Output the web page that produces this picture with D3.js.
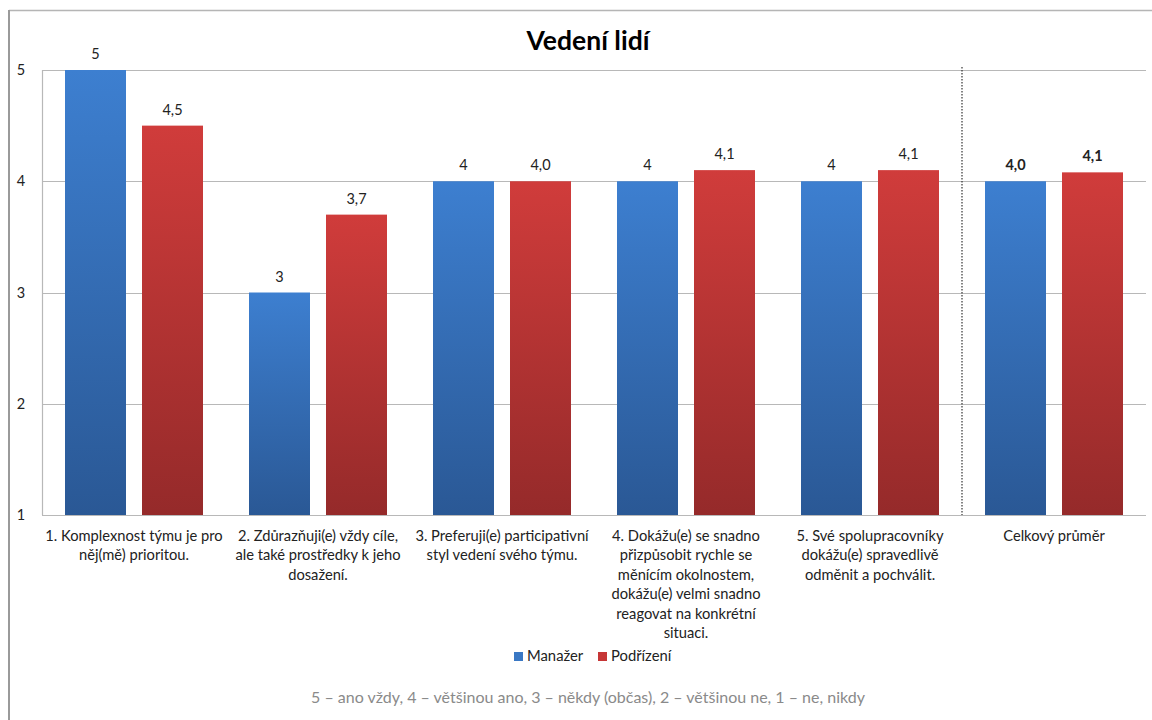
<!DOCTYPE html>
<html>
<head>
<meta charset="utf-8">
<script src="https://cdn.jsdelivr.net/npm/d3@7"></script>
<style>
  html, body { margin: 0; padding: 0; background: #fff; }
  svg { display: block; font-family: Lato, "Open Sans", sans-serif; }
</style>
</head>
<body>
<svg id="chart" width="1152" height="720"></svg>
<script>
// Hodnocení vedení lidí: manažer vs. podřízení
const categories = [
  ["1. Komplexnost týmu je pro", "něj(mě) prioritou."],
  ["2. Zdůrazňuji(e) vždy cíle,", "ale také prostředky k jeho", "dosažení."],
  ["3. Preferuji(e) participativní", "styl vedení svého týmu."],
  ["4. Dokážu(e) se snadno", "přizpůsobit rychle se", "měnícím okolnostem,", "dokážu(e) velmi snadno", "reagovat na konkrétní", "situaci."],
  ["5. Své spolupracovníky", "dokážu(e) spravedlivě", "odměnit a pochválit."],
  ["Celkový průměr"]
];
const manazer = [5, 3, 4, 4, 4, 4.0];
const podrizeni = [4.5, 3.7, 4.0, 4.1, 4.1, 4.08];
const manazerLabels = ["5", "3", "4", "4", "4", "4,0"];
const podrizeniLabels = ["4,5", "3,7", "4,0", "4,1", "4,1", "4,1"];
const yTicks = [1, 2, 3, 4, 5];
const seriesNames = ["Manažer", "Podřízení"];
const footnote = "5 – ano vždy, 4 – většinou ano, 3 – někdy (občas), 2 – většinou ne, 1 – ne, nikdy";

const svg = d3.select("#chart");
const plotLeft = 42, plotRight = 1146, plotTop = 70, plotBottom = 515;

const defs = svg.append("defs");
function grad(id, c1, c2) {
  const g = defs.append("linearGradient").attr("id", id)
    .attr("x1", 0).attr("y1", 0).attr("x2", 0).attr("y2", 1);
  g.append("stop").attr("offset", "0%").attr("stop-color", c1);
  g.append("stop").attr("offset", "100%").attr("stop-color", c2);
}
grad("gBlue", "#3d7fd0", "#2a5895");
grad("gRed", "#d03c3b", "#952a2a");

// outer frame
svg.append("line").attr("x1", 9).attr("x2", 1152).attr("y1", 10.5).attr("y2", 10.5)
  .attr("stroke", "#b5b5b5").attr("stroke-width", 1.5);
svg.append("line").attr("x1", 9).attr("x2", 9).attr("y1", 10).attr("y2", 720)
  .attr("stroke", "#9a9a9a").attr("stroke-width", 2);

const x = d3.scaleBand().domain(d3.range(categories.length)).range([plotLeft, plotRight]).padding(0);
const y = d3.scaleLinear().domain([1, 5]).range([plotBottom, plotTop]);

// gridlines
svg.append("g").selectAll("line").data(yTicks).join("line")
  .attr("x1", plotLeft).attr("x2", plotRight)
  .attr("y1", d => Math.round(y(d)) + 0.5).attr("y2", d => Math.round(y(d)) + 0.5)
  .attr("stroke", "#b8b8b8").attr("stroke-width", 1.2);
svg.append("line").attr("x1", plotLeft + 0.5).attr("x2", plotLeft + 0.5).attr("y1", plotTop).attr("y2", plotBottom)
  .attr("stroke", "#b8b8b8").attr("stroke-width", 1.2);

// y axis labels
const yAxis = d3.axisLeft(y).tickValues(yTicks).tickSize(0).tickPadding(0).tickFormat(d3.format("d"));
const ya = svg.append("g").attr("transform", `translate(21,0)`).call(yAxis);
ya.select(".domain").remove();
ya.selectAll("text").attr("font-size", 14.5).attr("fill", "#222").attr("text-anchor", "middle")
  .attr("font-family", "Lato, sans-serif").attr("dy", "0.32em");

// divider before overall average
const divX = x(5);
svg.append("line").attr("x1", divX).attr("x2", divX).attr("y1", 67).attr("y2", plotBottom)
  .attr("stroke", "#333").attr("stroke-width", 1.2).attr("stroke-dasharray", "1.5,1.5");

// bars
const bw = 61, gap = 16, pad = (x.bandwidth() - 2 * bw - gap) / 2;
const series = [
  { vals: manazer, labels: manazerLabels, fill: "url(#gBlue)", off: pad },
  { vals: podrizeni, labels: podrizeniLabels, fill: "url(#gRed)", off: pad + bw + gap }
];
series.forEach(s => {
  const g = svg.append("g");
  g.selectAll("rect").data(s.vals).join("rect")
    .attr("x", (d, i) => x(i) + s.off)
    .attr("y", d => y(d))
    .attr("width", bw)
    .attr("height", d => y(1) - y(d))
    .attr("fill", s.fill);
  g.selectAll("text").data(s.vals).join("text")
    .attr("x", (d, i) => x(i) + s.off + bw / 2)
    .attr("y", d => y(d) - 11)
    .attr("text-anchor", "middle")
    .attr("font-size", 14.5)
    .attr("font-weight", (d, i) => i === 5 ? "bold" : "normal")
    .attr("fill", "#222")
    .text((d, i) => s.labels[i]);
});

// category labels
const cat = svg.append("g");
categories.forEach((lines, i) => {
  const t = cat.append("text")
    .attr("x", x(i) + x.bandwidth() / 2)
    .attr("y", 541)
    .attr("text-anchor", "middle")
    .attr("font-size", 14.7)
    .attr("fill", "#222");
  lines.forEach((ln, k) => {
    t.append("tspan").attr("x", x(i) + x.bandwidth() / 2).attr("dy", k === 0 ? 0 : 19.4).text(ln);
  });
});

// title
svg.append("text").attr("x", 588).attr("y", 50).attr("text-anchor", "middle")
  .attr("font-size", 26.5).attr("font-weight", "bold").attr("fill", "#000")
  .attr("font-family", "Lato, sans-serif").text("Vedení lidí");

// legend
const legend = svg.append("g");
const legX = [514, 598];
seriesNames.forEach((n, i) => {
  legend.append("rect").attr("x", legX[i]).attr("y", 652).attr("width", 9).attr("height", 9)
    .attr("fill", i === 0 ? "#3a78c4" : "#c63636");
  legend.append("text").attr("x", legX[i] + 13).attr("y", 661)
    .attr("font-size", 14.8).attr("fill", "#222").text(n);
});

// scale explanation
svg.append("text").attr("x", 588).attr("y", 703).attr("text-anchor", "middle")
  .attr("font-size", 16).attr("fill", "#8a8a8a").text(footnote);
</script>
</body>
</html>
